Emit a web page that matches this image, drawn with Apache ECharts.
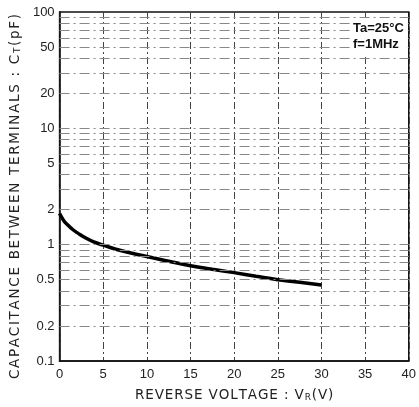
<!DOCTYPE html>
<html><head><meta charset="utf-8">
<script src="https://cdn.jsdelivr.net/npm/echarts@6/dist/echarts.min.js"></script>
<style>html,body{margin:0;padding:0;background:#fff}#c{width:419px;height:407px}</style>
</head><body><div id="c"></div>
<script>
const voltage = [0, 0.5, 1, 1.5, 2, 3, 4, 5, 7, 10, 12.5, 15, 17.5, 20, 22.5, 25, 27.5, 30];
const capacitance = [1.85, 1.6, 1.46, 1.35, 1.27, 1.14, 1.05, 0.99, 0.89, 0.79, 0.72, 0.66, 0.615, 0.575, 0.535, 0.50, 0.475, 0.45];
const yTickLabels = [0.1, 0.2, 0.5, 1, 2, 5, 10, 20, 50, 100];
const yGridValues = [0.2,0.3,0.4,0.5,0.6,0.7,0.8,0.9,1,2,3,4,5,6,7,8,9,10,20,30,40,50,60,70,80,90];
const xTicks = [0, 5, 10, 15, 20, 25, 30, 35, 40];

const chart = echarts.init(document.getElementById('c'));
const font = '"Liberation Sans", Arial, sans-serif';
const nameFont = '"DejaVu Sans", sans-serif';

// spaced-out rich text: each character is its own token (main style 'a', subscript style 's')
function spaced(parts) {
  return parts.map(([txt, st]) => txt.split('').map(ch => '{' + st + '|' + ch + '}').join('')).join('');
}
function richStyles(size, pad) {
  return {
    a: {fontFamily: nameFont, fontSize: size, color: '#222', padding: [0, pad, 0, pad]},
    s: {fontFamily: nameFont, fontSize: size * 0.66, color: '#222', verticalAlign: 'bottom', padding: [4, pad, 0, pad]}
  };
}

chart.setOption({
  animation: false,
  grid: {left: 58, top: 12, right: 6, bottom: 44, show: true, borderColor: '#111', borderWidth: 1.5},
  xAxis: {
    type: 'value', min: 0, max: 40, interval: 5,
    axisLine: {lineStyle: {color: '#111', width: 1.5}},
    axisTick: {show: false},
    axisLabel: {color: '#222', fontFamily: font, fontSize: 13, margin: 7},
    splitLine: {show: true, lineStyle: {color: '#444', width: 1, type: [7, 3, 2, 3]}},
    name: spaced([['REVERSE VOLTAGE : V', 'a'], ['R', 's'], ['(V)', 'a']]),
    nameLocation: 'middle', nameGap: 27,
    nameTextStyle: {rich: richStyles(13.5, 0.45), padding: [0, 0, 0, 0]}
  },
  yAxis: {
    type: 'log', logBase: 10, min: 0.1, max: 100,
    axisLine: {lineStyle: {color: '#111', width: 1.5}},
    axisTick: {show: false},
    axisLabel: {color: '#222', fontFamily: font, fontSize: 13, margin: 5, customValues: yTickLabels},
    splitLine: {show: false},
    name: spaced([['CAPACITANCE BETWEEN TERMINALS : C', 'a'], ['T', 's'], ['(pF)', 'a']]),
    nameLocation: 'middle', nameGap: 30, nameRotate: 90,
    nameTextStyle: {rich: richStyles(13.5, 0.85), padding: [0, 20, 0, 0]}
  },
  series: [{
    type: 'line', data: voltage.map((v, i) => [v, capacitance[i]]),
    smooth: true, symbol: 'none',
    lineStyle: {color: '#000', width: 3.5},
    markLine: {
      silent: true, symbol: 'none', label: {show: false},
      lineStyle: {color: '#888', width: 1, type: [10, 4, 2, 4]},
      data: yGridValues.map(v => ({yAxis: v}))
    }
  }],
  graphic: [{
    type: 'text', left: 350, top: 18, z: 100,
    style: {text: 'Ta=25°C\nf=1MHz', font: 'bold 13px ' + font, fill: '#111', lineHeight: 16,
      backgroundColor: '#fff', padding: [2, 4, 2, 3]}
  }]
});
</script></body></html>
